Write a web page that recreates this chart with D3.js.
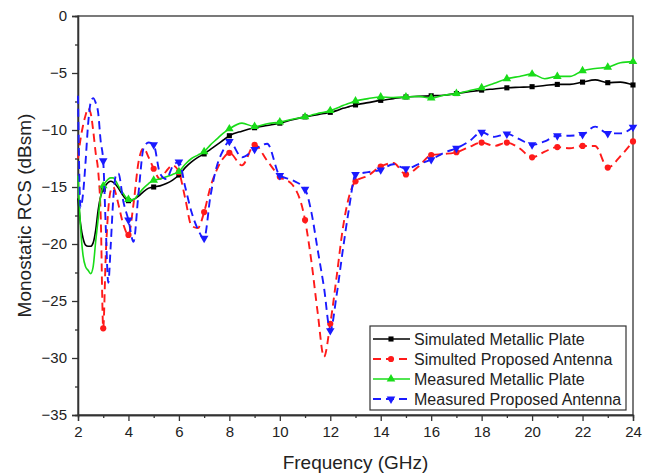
<!DOCTYPE html>
<html>
<head>
<meta charset="utf-8">
<script src="https://cdn.jsdelivr.net/npm/d3@7"></script>
<style>
  body { margin: 0; background: #fff; }
  text { font-family: "Liberation Sans", Arial, sans-serif; fill: #222; }
</style>
</head>
<body>
<svg id="chart" width="651" height="476"></svg>
<script>
// Frequency samples (GHz), shared by all four series
const freqGHz = [
  2, 2.1, 2.2, 2.3, 2.4, 2.5, 2.6, 2.7, 2.8, 2.9,
  3, 3.1, 3.2, 3.3, 3.4, 3.5, 3.6, 3.8, 4, 4.2,
  4.4, 4.6, 4.8, 5, 5.25, 5.5, 5.75, 6, 6.25, 6.5,
  6.75, 7, 7.25, 7.5, 7.75, 8, 8.5, 9, 9.5, 10,
  10.5, 11, 11.25, 11.5, 11.75, 12, 12.25, 12.5, 12.75, 13,
  13.5, 14, 14.5, 15, 15.5, 16, 16.5, 17, 17.5, 18,
  18.5, 19, 19.5, 20, 20.5, 21, 21.5, 22, 22.5, 23,
  23.5, 24
];

// Monostatic RCS (dBsm)
const simulatedPlate = [
  -16.0, -18.2, -19.5, -20.1, -20.2, -20.2, -19.9, -18.8, -17.0, -15.8,
  -15.2, -14.85, -14.6, -14.5, -14.6, -14.8, -15.1, -15.8, -16.2, -16.1,
  -15.8, -15.4, -15.1, -15.0, -14.9, -14.7, -14.4, -13.95, -13.3, -12.8,
  -12.4, -12.1, -11.7, -11.3, -10.9, -10.5, -10.1, -9.8, -9.6, -9.4,
  -9.1, -8.85, -8.75, -8.65, -8.55, -8.45, -8.3, -8.1, -7.95, -7.8,
  -7.6, -7.4, -7.25, -7.1, -7.05, -7.0, -6.95, -6.8, -6.65, -6.5,
  -6.4, -6.3, -6.25, -6.2, -6.1, -6.0, -6.0, -5.8, -5.6, -5.85,
  -5.8, -6.05
];

const simulatedAntenna = [
  -12.5, -10.8, -9.6, -8.7, -8.1, -8.5, -10.0, -12.0, -13.6, -17.5,
  -27.4, -21.0, -17.0, -15.3, -15.0, -15.6, -16.5, -18.3, -19.2, -16.5,
  -12.8, -11.6, -12.4, -13.4, -14.3, -13.6, -13.1, -13.7, -16.0, -18.4,
  -18.6, -17.2, -15.0, -13.5, -12.5, -12.0, -13.1, -11.3, -12.7, -14.1,
  -14.8, -17.9, -21.5, -26.0, -29.9, -27.0, -22.9, -18.6, -15.8, -14.5,
  -14.0, -13.2, -12.9, -13.9, -13.2, -12.2, -12.1, -11.95, -11.5, -11.1,
  -11.4, -11.1, -11.6, -12.4, -11.9, -11.5, -11.6, -11.4, -11.4, -13.3,
  -12.3, -11.0
];

const measuredPlate = [
  -14.0, -18.5, -21.0, -22.0, -22.3, -22.6, -22.0, -19.8, -17.8, -15.8,
  -14.9, -14.55, -14.3, -14.2, -14.2, -14.5, -14.9, -15.6, -16.1, -16.1,
  -15.6, -15.1, -14.7, -14.4, -14.3, -14.1, -13.9, -13.65, -13.0, -12.5,
  -12.2, -11.9, -11.3, -10.8, -10.3, -9.9, -9.4, -9.7, -9.45, -9.3,
  -9.05, -8.85, -8.7, -8.55, -8.45, -8.3, -8.1, -7.85, -7.65, -7.45,
  -7.25, -7.1, -7.15, -7.1, -7.05, -7.2, -6.95, -6.8, -6.55, -6.3,
  -5.9, -5.5, -5.3, -5.1, -5.5, -5.3, -5.3, -4.8, -4.6, -4.5,
  -4.1, -4.0
];

const measuredAntenna = [
  -7.0, -16.8, -15.6, -12.8, -9.5, -7.6, -7.2, -7.6, -8.5, -11.0,
  -12.7, -18.5, -23.4, -20.0, -16.0, -14.0, -13.8, -16.3, -17.9, -19.8,
  -15.5, -11.6, -11.1, -11.3, -13.8, -14.3, -13.2, -12.8, -15.0, -17.2,
  -18.7, -19.5, -15.8, -13.2, -11.8, -11.0, -12.4, -11.7, -11.2, -14.0,
  -14.4, -15.2, -17.2, -20.5, -23.8, -27.6, -24.5, -20.5, -16.8, -13.9,
  -13.7, -13.5, -13.0, -13.4, -13.0, -12.6, -12.0, -11.6, -11.0, -10.2,
  -10.6, -10.35, -10.8, -11.3, -11.0, -10.5, -10.5, -10.4, -9.7, -10.3,
  -10.3, -9.75
];

const xTickValues = d3.range(2, 25, 2);
const xMinorValues = d3.range(3, 24, 2);
const yTickValues = d3.range(0, -36, -5);
const yMinorValues = d3.range(-2.5, -35, -5);

const seriesNames = [
  "Simulated Metallic Plate",
  "Simulted Proposed Antenna",
  "Measured Metallic Plate",
  "Measured Proposed Antenna"
];

const series = [
  { name: seriesNames[0], values: simulatedPlate,   color: "#000000", dash: null,  symbol: "square" },
  { name: seriesNames[1], values: simulatedAntenna, color: "#ff1a1a", dash: "8,5", symbol: "circle" },
  { name: seriesNames[2], values: measuredPlate,    color: "#19dc19", dash: null,  symbol: "triangleUp" },
  { name: seriesNames[3], values: measuredAntenna,  color: "#1a1aff", dash: "8,5", symbol: "triangleDown" }
];
// drawing order: black, red, green, blue on top
const drawOrder = [0, 1, 2, 3];

const svg = d3.select("#chart");
const margin = { left: 78, top: 16, right: 18, bottom: 61 };
const W = 651, H = 476;

const x = d3.scaleLinear().domain([2, 24]).range([margin.left, W - margin.right]);
const y = d3.scaleLinear().domain([-35, 0]).range([H - margin.bottom, margin.top]);

const axisColor = "#333";

// Plot frame
svg.append("rect")
  .attr("x", x(2)).attr("y", y(0))
  .attr("width", x(24) - x(2)).attr("height", y(-35) - y(0))
  .attr("fill", "none").attr("stroke", axisColor).attr("stroke-width", 1.3);

// X axis
svg.append("g").attr("transform", `translate(0,${y(-35)})`)
  .call(d3.axisBottom(x).tickValues(xTickValues).tickSize(6).tickPadding(5).tickFormat(d3.format("d")));
svg.append("g").attr("transform", `translate(0,${y(-35)})`)
  .call(d3.axisBottom(x).tickValues(xMinorValues).tickSize(3).tickFormat(""));

// Y axis
svg.append("g").attr("transform", `translate(${x(2)},0)`)
  .call(d3.axisLeft(y).tickValues(yTickValues).tickSize(6).tickPadding(5).tickFormat(d3.format("d")));
svg.append("g").attr("transform", `translate(${x(2)},0)`)
  .call(d3.axisLeft(y).tickValues(yMinorValues).tickSize(3).tickFormat(""));

svg.selectAll(".domain").attr("stroke", axisColor).attr("stroke-width", 1.3);
svg.selectAll(".tick line").attr("stroke", axisColor).attr("stroke-width", 1.3);
svg.selectAll(".tick text").style("font-size", "15px").attr("fill", "#222")
  .style("font-family", '"Liberation Sans", Arial, sans-serif');

// Axis titles
svg.append("text")
  .attr("x", (x(2) + x(24)) / 2).attr("y", 469)
  .attr("text-anchor", "middle").style("font-size", "19px")
  .text("Frequency (GHz)");

svg.append("text")
  .attr("transform", `translate(31,${(y(0) + y(-35)) / 2}) rotate(-90)`)
  .attr("text-anchor", "middle").style("font-size", "19px")
  .text("Monostatic RCS (dBsm)");

// Symbols
function drawSymbol(g, kind, cx, cy, color) {
  let sym, rot = 0, size;
  if (kind === "square") { sym = d3.symbolSquare; size = 26; }
  else if (kind === "circle") { sym = d3.symbolCircle; size = 30; }
  else if (kind === "triangleUp") { sym = d3.symbolTriangle; size = 32; }
  else { sym = d3.symbolTriangle; size = 32; rot = 180; }
  g.append("path")
    .attr("d", d3.symbol().type(sym).size(size)())
    .attr("transform", `translate(${cx},${cy}) rotate(${rot})`)
    .attr("fill", color);
}

const line = d3.line()
  .x((d, i) => x(freqGHz[i]))
  .y(d => y(d))
  .curve(d3.curveMonotoneX);

const plot = svg.append("g");
drawOrder.forEach(k => {
  const s = series[k];
  plot.append("path")
    .datum(s.values)
    .attr("fill", "none")
    .attr("stroke", s.color)
    .attr("stroke-width", s.dash ? 1.9 : 1.6)
    .attr("stroke-dasharray", s.dash)
    .attr("d", line);
  const mg = plot.append("g");
  freqGHz.forEach((f, i) => {
    if (Number.isInteger(f) && f >= 3) drawSymbol(mg, s.symbol, x(f), y(s.values[i]), s.color);
  });
});

// Legend
const lg = svg.append("g");
const lgX = 370, lgY = 326, lgW = 256, lgH = 84;
lg.append("rect").attr("x", lgX).attr("y", lgY).attr("width", lgW).attr("height", lgH)
  .attr("fill", "#fff").attr("stroke", axisColor).attr("stroke-width", 1.2);
series.forEach((s, i) => {
  const cy = lgY + 13 + i * 20;
  lg.append("line").attr("x1", lgX + 3).attr("x2", lgX + 40)
    .attr("y1", cy).attr("y2", cy)
    .attr("stroke", s.color).attr("stroke-width", s.dash ? 1.9 : 1.6)
    .attr("stroke-dasharray", s.dash);
  drawSymbol(lg, s.symbol, lgX + 21, cy, s.color);
  lg.append("text").attr("x", lgX + 44).attr("y", cy + 6)
    .style("font-size", "16px").text(s.name);
});
</script>
</body>
</html>
